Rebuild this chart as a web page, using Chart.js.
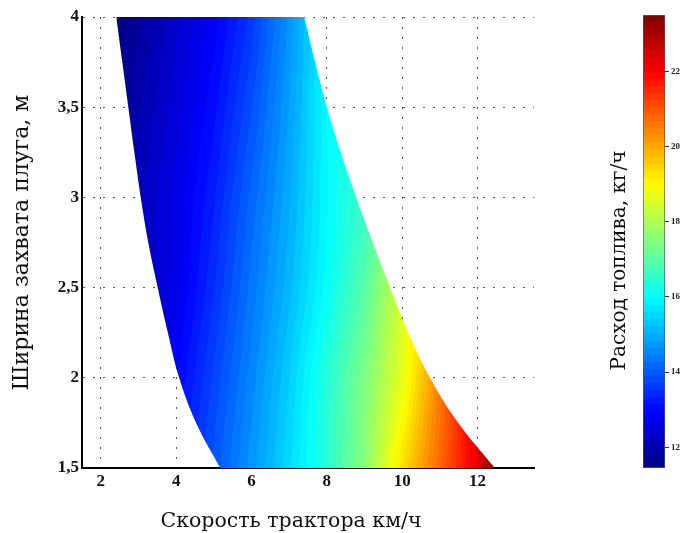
<!DOCTYPE html>
<html>
<head>
<meta charset="utf-8">
<script src="https://cdn.jsdelivr.net/npm/chart.js@4.4.1/dist/chart.umd.min.js"></script>
<style>
    html, body { margin: 0; padding: 0; background: #fff; }
    #wrap { position: relative; width: 681px; height: 533px; }
    #fuelChart { position: absolute; left: 0; top: 0; }
    #scaleChart { position: absolute; left: 590px; top: 0; }
</style>
</head>
<body>
<div id="wrap">
    <canvas id="fuelChart" width="582" height="533"></canvas>
    <canvas id="scaleChart" width="91" height="533"></canvas>
</div>
<script>
// Plow width levels (m) where the edges of the region were read
const widths = [1.5, 1.75, 2, 2.25, 2.5, 2.75, 3, 3.25, 3.5, 3.75, 4];
const speedLeftEdge = [5.17, 4.53, 4.08, 3.78, 3.51, 3.26, 3.06, 2.89, 2.73, 2.57, 2.41];
const speedRightEdge = [12.46, 11.49, 10.74, 10.16, 9.68, 9.22, 8.78, 8.37, 8.00, 7.69, 7.40];

// Fuel consumption (kg/h) read along a few rows of the picture
const fuelSpeeds = [2, 3, 4, 5, 6, 7, 8, 9, 10, 11, 12, 13];
const fuelRowWidths = [1.5, 2, 2.5, 3, 4];
const fuelW15 = [11.8, 12.5, 13.2, 13.95, 14.75, 15.55, 16.45, 17.6, 19.35, 20.8, 22.3, 24.5];
const fuelW2 = [11.6, 12.2, 12.95, 13.75, 14.55, 15.4, 16.4, 17.45, 18.7, 20.5, 22.2, 24];
const fuelW25 = [11.5, 12.18, 12.7, 13.5, 14.35, 15.15, 16.05, 17.0, 18.5, 20, 21.6, 23.3];
const fuelW3 = [11.4, 12.15, 12.65, 13.3, 14.15, 15.0, 15.95, 16.7, 17.8, 19.3, 21, 22.8];
const fuelW4 = [11.3, 11.8, 12.35, 12.85, 13.6, 14.7, 16.0, 17.0, 18.3, 19.8, 21.5, 23.2];
const fuelRows = [fuelW15, fuelW2, fuelW25, fuelW3, fuelW4];

const xTicks = [2, 4, 6, 8, 10, 12];
const yTicks = [1.5, 2, 2.5, 3, 3.5, 4];
const colorTicks = [12, 14, 16, 18, 20, 22];
const colorRange = [11.45, 23.5];

const tickFont = { family: 'Liberation Serif', size: 17, weight: 'bold' };

function lerpIn(xs, ys, x) {
    if (x <= xs[0]) return ys[0];
    for (let i = 0; i < xs.length - 1; i++) {
        if (x <= xs[i + 1]) {
            const t = (x - xs[i]) / (xs[i + 1] - xs[i]);
            return ys[i] + t * (ys[i + 1] - ys[i]);
        }
    }
    return ys[ys.length - 1];
}

// smooth blend between the rows so the colour bands don't kink
function hermiteIn(xs, ys, x) {
    const n = xs.length;
    if (x <= xs[0]) return ys[0];
    if (x >= xs[n - 1]) return ys[n - 1];
    const slope = j => {
        const a = Math.max(0, j - 1), b = Math.min(n - 1, j + 1);
        return (ys[b] - ys[a]) / (xs[b] - xs[a]);
    };
    let i = 0;
    while (x > xs[i + 1]) i++;
    const h = xs[i + 1] - xs[i];
    const t = (x - xs[i]) / h;
    const t2 = t * t, t3 = t2 * t;
    return (2 * t3 - 3 * t2 + 1) * ys[i] + (t3 - 2 * t2 + t) * h * slope(i) +
        (-2 * t3 + 3 * t2) * ys[i + 1] + (t3 - t2) * h * slope(i + 1);
}

function fuelAt(v, b) {
    const perRow = fuelRows.map(row => lerpIn(fuelSpeeds, row, v));
    return hermiteIn(fuelRowWidths, perRow, b);
}

// matlab jet, 64 steps
function jet(value) {
    let t = (value - colorRange[0]) / (colorRange[1] - colorRange[0]);
    let k = Math.floor(t * 64);
    k = Math.max(0, Math.min(63, k));
    t = (k + 0.5) / 64;
    const c = x => Math.round(255 * Math.max(0, Math.min(1, x)));
    return [c(1.5 - Math.abs(4 * t - 3)), c(1.5 - Math.abs(4 * t - 2)), c(1.5 - Math.abs(4 * t - 1))];
}

let fieldCache = null;
function fieldPattern(context) {
    const chart = context.chart;
    const area = chart.chartArea;
    if (!area) return 'rgba(0,0,0,0)';
    if (fieldCache) return fieldCache;
    const xs = chart.scales.x, ys = chart.scales.y;
    const off = document.createElement('canvas');
    off.width = chart.width;
    off.height = chart.height;
    const octx = off.getContext('2d');
    const img = octx.createImageData(off.width, off.height);
    for (let py = Math.floor(area.top); py < Math.ceil(area.bottom); py++) {
        const b = ys.getValueForPixel(py + 0.5);
        for (let px = Math.floor(area.left); px < Math.ceil(area.right); px++) {
            const v = xs.getValueForPixel(px + 0.5);
            const rgb = jet(fuelAt(v, b));
            const idx = (py * off.width + px) * 4;
            img.data[idx] = rgb[0];
            img.data[idx + 1] = rgb[1];
            img.data[idx + 2] = rgb[2];
            img.data[idx + 3] = 255;
        }
    }
    octx.putImageData(img, 0, 0);
    fieldCache = chart.ctx.createPattern(off, 'no-repeat');
    return fieldCache;
}

// upper edge: top line then the right curve; lower edge: left curve then bottom line
// corner points are doubled so the curves keep sharp corners
const topIdx = widths.length - 1;
const upperEdge = [{ x: speedLeftEdge[topIdx], y: widths[topIdx] }];
upperEdge.push({ x: speedRightEdge[topIdx], y: widths[topIdx] });
for (let i = topIdx; i >= 0; i--) upperEdge.push({ x: speedRightEdge[i], y: widths[i] });
const lowerEdge = [];
for (let i = topIdx; i >= 0; i--) lowerEdge.push({ x: speedLeftEdge[i], y: widths[i] });
lowerEdge.push({ x: speedLeftEdge[0], y: widths[0] });
lowerEdge.push({ x: speedRightEdge[0], y: widths[0] });

const fuelChart = new Chart(document.getElementById('fuelChart'), {
    type: 'scatter',
    data: {
        datasets: [{
            data: upperEdge,
            showLine: true,
            tension: 0.4,
            fill: '+1',
            backgroundColor: fieldPattern,
            borderColor: 'rgba(0,0,0,0)',
            borderWidth: 0,
            pointRadius: 0
        }, {
            data: lowerEdge,
            showLine: true,
            tension: 0.4,
            fill: false,
            borderColor: 'rgba(0,0,0,0)',
            borderWidth: 0,
            pointRadius: 0
        }]
    },
    options: {
        responsive: false,
        animation: false,
        layout: { padding: { left: 0, right: 0, top: 17, bottom: 0 } },
        plugins: {
            legend: { display: false },
            tooltip: { enabled: false },
            title: {
                display: true, position: 'bottom', text: 'Скорость трактора км/ч',
                font: { family: 'DejaVu Serif', size: 20.5, weight: 'normal', lineHeight: 1 },
                color: '#111', padding: { top: 0, bottom: 1 }
            }
        },
        scales: {
            x: {
                min: 1.5, max: 13.5,
                afterBuildTicks: s => { s.ticks = xTicks.map(v => ({ value: v })); },
                afterFit: s => { s.height = 43.5; },
                ticks: { font: tickFont, color: '#111', padding: 3 },
                grid: { color: '#555', drawTicks: false },
                border: { color: '#000', width: 2, dash: [2, 8] }
            },
            y: {
                min: 1.5, max: 4,
                afterBuildTicks: s => { s.ticks = yTicks.map(v => ({ value: v })); },
                afterFit: s => { s.width = 82; },
                ticks: { font: tickFont, color: '#111', padding: 3, callback: v => String(v).replace('.', ',') },
                grid: { color: '#555', drawTicks: false },
                border: { color: '#000', width: 2, dash: [2, 8] },
                title: {
                    display: true, text: 'Ширина захвата плуга, м',
                    font: { family: 'DejaVu Serif', size: 22, lineHeight: 1 },
                    color: '#111', padding: { top: 11, bottom: 0 }
                }
            },
            // empty right margin, keeps the plot edge at 13.5
            yRight: {
                position: 'right',
                ticks: { display: false },
                grid: { display: false },
                border: { display: false },
                afterFit: s => { s.width = 48; }
            }
        }
    }
});

function barGradient(context) {
    const chart = context.chart;
    if (!chart.chartArea) return '#888';
    const ys = chart.scales.y;
    const y0 = ys.getPixelForValue(colorRange[0]);
    const y1 = ys.getPixelForValue(colorRange[1]);
    const g = chart.ctx.createLinearGradient(0, y0, 0, y1);
    const step = (colorRange[1] - colorRange[0]) / 64;
    for (let k = 0; k < 64; k++) {
        const rgb = jet(colorRange[0] + (k + 0.5) * step);
        const col = 'rgb(' + rgb.join(',') + ')';
        g.addColorStop(k / 64, col);
        g.addColorStop((k + 1) / 64 - 0.0001, col);
    }
    return g;
}

const scaleChart = new Chart(document.getElementById('scaleChart'), {
    type: 'bar',
    data: {
        labels: [''],
        datasets: [{
            data: [colorRange],
            backgroundColor: barGradient,
            borderColor: '#555',
            borderWidth: 1,
            borderSkipped: false,
            barPercentage: 1,
            categoryPercentage: 1
        }]
    },
    options: {
        responsive: false,
        animation: false,
        layout: { padding: { left: 8, right: 0, top: 15, bottom: 27 } },
        plugins: {
            legend: { display: false },
            tooltip: { enabled: false },
            title: {
                display: true, position: 'left', text: 'Расход топлива, кг/ч',
                font: { family: 'DejaVu Serif', size: 20, weight: 'normal', lineHeight: 1.1 },
                color: '#111', padding: { top: 11, bottom: 12 }
            }
        },
        scales: {
            x: {
                ticks: { display: false },
                grid: { display: false },
                border: { display: false },
                afterFit: s => { s.height = 38; }
            },
            y: {
                position: 'right',
                min: colorRange[0], max: colorRange[1],
                afterBuildTicks: s => { s.ticks = colorTicks.map(v => ({ value: v })); },
                afterFit: s => { s.width = 16; },
                ticks: { font: { family: 'Liberation Serif', size: 9, weight: 'bold' }, color: '#222', padding: 2 },
                grid: { drawOnChartArea: false, tickLength: 4, color: '#333' },
                border: { display: false }
            }
        }
    }
});
</script>
</body>
</html>
